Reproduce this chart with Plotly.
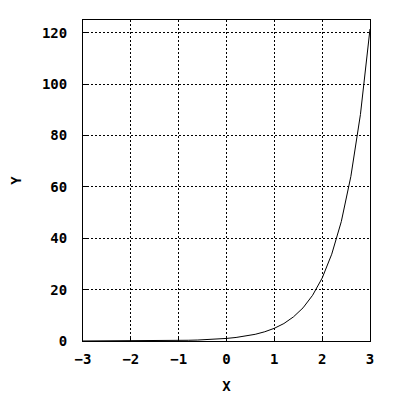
import plotly.graph_objects as go

# values
x_vals = [-3.0, -2.8, -2.6, -2.4, -2.2, -2.0, -1.8, -1.6, -1.4, -1.2, -1.0,
          -0.8, -0.6, -0.4, -0.2, 0.0, 0.2, 0.4, 0.6, 0.8, 1.0,
          1.2, 1.4, 1.6, 1.8, 2.0, 2.2, 2.4, 2.6, 2.8, 3.0]
y_vals = [0.01, 0.01, 0.02, 0.02, 0.03, 0.04, 0.06, 0.08, 0.11, 0.15, 0.2,
          0.28, 0.38, 0.53, 0.73, 1.0, 1.38, 1.9, 2.6, 3.6, 4.95,
          6.8, 9.4, 12.9, 17.8, 24.5, 33.8, 46.5, 64.1, 88.2, 121.5]
x_ticks = [-3, -2, -1, 0, 1, 2, 3]
y_ticks = [0, 20, 40, 60, 80, 100, 120]

font = dict(family="DejaVu Sans Mono", size=14, color="black", weight="bold")

fig = go.Figure()
fig.add_trace(go.Scatter(x=x_vals, y=y_vals, mode="lines",
                         line=dict(color="black", width=1), showlegend=False))

axis_style = dict(
    showline=True, mirror=True, linecolor="black", linewidth=1,
    showgrid=True, gridcolor="black", griddash="2px,2px", gridwidth=1,
    zeroline=False, ticks="inside", ticklen=5, tickcolor="black",
    tickfont=font, automargin=False,
)

# page body adds an 8px offset, margins compensate for it
fig.update_layout(
    width=400, height=400,
    margin=dict(l=75, r=38, t=12, b=67),
    paper_bgcolor="white", plot_bgcolor="white",
    xaxis=dict(range=[-3, 3], tickvals=x_ticks, ticklabelstandoff=5,
               title=dict(text="X", font=font, standoff=15), **axis_style),
    yaxis=dict(range=[0, 125], tickvals=y_ticks, ticklabelstandoff=12,
               title=dict(text="Y", font=font, standoff=24), **axis_style),
)

fig.write_html("out.html")
